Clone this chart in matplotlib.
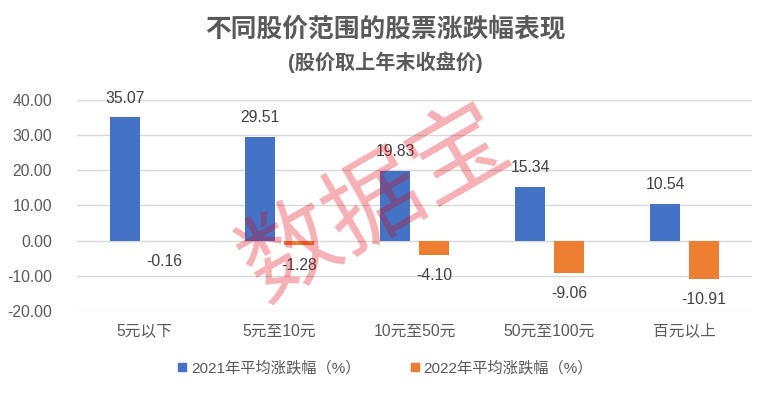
import matplotlib
matplotlib.use("Agg")
import matplotlib.pyplot as plt
from matplotlib.lines import Line2D
import numpy as np

plt.rcParams['font.family'] = ['Liberation Sans', 'Noto Sans CJK SC', 'DejaVu Sans']

categories = ['5元以下', '5元至10元', '10元至50元', '50元至100元', '百元以上']
s2021 = [35.07, 29.51, 19.83, 15.34, 10.54]
s2022 = [-0.16, -1.28, -4.10, -9.06, -10.91]
series_names = ['2021年平均涨跌幅（%）', '2022年平均涨跌幅（%）']
yticks = [-20, -10, 0, 10, 20, 30, 40]

blue = '#4472C4'
orange = '#ED7D31'
txt = '#595959'

fig = plt.figure(figsize=(7.71, 3.93), dpi=100)
ax = fig.add_axes([0.0999, 0.2087, 0.8755, 0.5368])

x = np.arange(len(categories))
w = 0.22
off = 0.143
ax.bar(x - off, s2021, width=w, color=blue, zorder=2)
ax.bar(x + off, s2022, width=w, color=orange, zorder=2)

for xi, v in zip(x, s2021):
    ax.annotate(f'{v:.2f}', (xi - off, v), xytext=(0, 8.5), textcoords='offset points',
                ha='center', va='bottom', fontsize=11.3, color='#404040')
for xi, v in zip(x, s2022):
    ax.annotate(f'{v:.2f}', (xi + off, v), xytext=(0, -9.5), textcoords='offset points',
                ha='center', va='top', fontsize=11.3, color='#404040')

ax.set_xlim(-0.5, len(categories) - 0.5)
ax.set_ylim(-20, 40)
ax.set_yticks(yticks)
ax.set_yticklabels([f'{t:.2f}' for t in yticks], fontsize=11.3, color=txt)
ax.set_xticks(x)
ax.set_xticklabels(categories, fontsize=11.3, color=txt)
ax.tick_params(length=0)
ax.tick_params(axis='y', pad=18)
ax.tick_params(axis='x', pad=9)
ax.grid(axis='y', color='#D9D9D9', linewidth=1, zorder=0)
for s in ax.spines.values():
    s.set_visible(False)

fig.text(0.5, 0.925, '不同股价范围的股票涨跌幅表现', ha='center', va='center',
         fontsize=18.5, fontweight='bold', color=txt)
fig.text(0.5, 0.842, '(股价取上年末收盘价)', ha='center', va='center',
         fontsize=14.5, fontweight='bold', color=txt)

handles = [Line2D([], [], marker='s', linestyle='none', color=blue, markersize=6),
           Line2D([], [], marker='s', linestyle='none', color=orange, markersize=6)]
fig.legend(handles, series_names, loc='center', bbox_to_anchor=(0.5, 0.064), ncol=2,
           frameon=False, fontsize=11, labelcolor=txt, handlelength=0.6,
           handletextpad=0.3, columnspacing=3.2)

fig.text(0.4864, 0.478, '数据宝', ha='center', va='center', rotation=30,
         fontsize=70, fontweight='normal', color='#DF0010', alpha=0.31,
         family=['Noto Sans CJK SC'], zorder=10)

fig.savefig('out.png', dpi=100, facecolor='white')
